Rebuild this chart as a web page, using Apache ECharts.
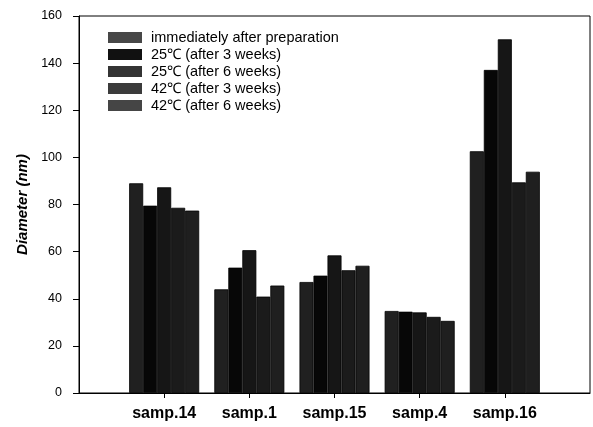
<!DOCTYPE html>
<html>
<head>
<meta charset="utf-8">
<script src="https://cdn.jsdelivr.net/npm/echarts@6/dist/echarts.min.js"></script>
<style>
  html, body { margin: 0; padding: 0; background: #fff; }
  #chart { width: 593px; height: 427px; }
</style>
</head>
<body>
<div id="chart"></div>
<script>
// Samples on the x axis (blank slots at both ends leave room around the groups)
const samples = ['', 'samp.14', 'samp.1', 'samp.15', 'samp.4', 'samp.16', ''];

// Storage conditions, one series each
const conditions = [
  'immediately after preparation',
  '25℃ (after 3 weeks)',
  '25℃ (after 6 weeks)',
  '42℃ (after 3 weeks)',
  '42℃ (after 6 weeks)'
];

// Particle diameter (nm) per sample, one array per condition
const initial   = [null, 89.0, 44.0, 47.1, 34.8, 102.6, null];
const t25w3     = [null, 79.5, 53.2, 49.8, 34.5, 137.1, null];
const t25w6     = [null, 87.3, 60.6, 58.4, 34.2, 150.1, null];
const t42w3     = [null, 78.6, 40.9, 52.1, 32.3, 89.4, null];
const t42w6     = [null, 77.4, 45.6, 54.0, 30.6, 93.9, null];

// Diameter axis ticks
const yMin = 0, yMax = 160, yStep = 20;

const seriesData = [initial, t25w3, t25w6, t42w3, t42w6];
const barColors = ['#202020', '#070707', '#161616', '#1b1b1b', '#1f1f1f'];
const swatchColors = ['#474747', '#111111', '#343434', '#3b3b3b', '#454545'];

const font = '"Liberation Sans", Arial, Helvetica, sans-serif';

const chart = echarts.init(document.getElementById('chart'), null, { renderer: 'canvas' });

chart.setOption({
  animation: false,
  backgroundColor: '#ffffff',
  textStyle: { fontFamily: font, color: '#000' },
  grid: {
    left: 79, right: 1, top: 16, bottom: 34,
    show: true, borderColor: '#000', borderWidth: 1, backgroundColor: 'transparent'
  },
  legend: {
    orient: 'vertical',
    left: 108, top: 30,
    padding: 0,
    itemWidth: 34, itemHeight: 11, itemGap: 2,
    icon: 'rect',
    textStyle: { fontFamily: font, fontSize: 14.5, color: '#000', lineHeight: 14, padding: [0, 0, 0, 4] },
    data: conditions.map((name, i) => ({
      name,
      itemStyle: { color: swatchColors[i], borderWidth: 0 }
    }))
  },
  xAxis: {
    type: 'category',
    data: samples,
    boundaryGap: false,
    axisLine: { lineStyle: { color: '#000', width: 1 } },
    axisTick: {
      show: true, length: 5, inside: false,
      interval: (idx) => idx > 0 && idx < samples.length - 1,
      lineStyle: { color: '#000' }
    },
    axisLabel: {
      interval: 0, margin: 13,
      fontFamily: font, fontSize: 16, fontWeight: 'bold', color: '#000'
    },
    splitLine: { show: false }
  },
  yAxis: {
    type: 'value',
    min: yMin, max: yMax, interval: yStep,
    name: 'Diameter (nm)',
    nameLocation: 'middle',
    nameGap: 49,
    nameTextStyle: { fontFamily: font, fontSize: 15, fontWeight: 'bold', fontStyle: 'italic', color: '#000' },
    axisLine: { show: true, lineStyle: { color: '#000', width: 1 } },
    axisTick: { show: true, length: 6, inside: false, lineStyle: { color: '#000' } },
    axisLabel: { margin: 17, fontFamily: font, fontSize: 12.5, color: '#000' },
    splitLine: { show: false }
  },
  series: conditions.map((name, i) => ({
    name,
    type: 'bar',
    data: seriesData[i],
    barWidth: 14,
    barGap: '0%',
    itemStyle: { color: barColors[i], borderColor: '#000', borderWidth: 0.8 }
  }))
});
</script>
</body>
</html>
